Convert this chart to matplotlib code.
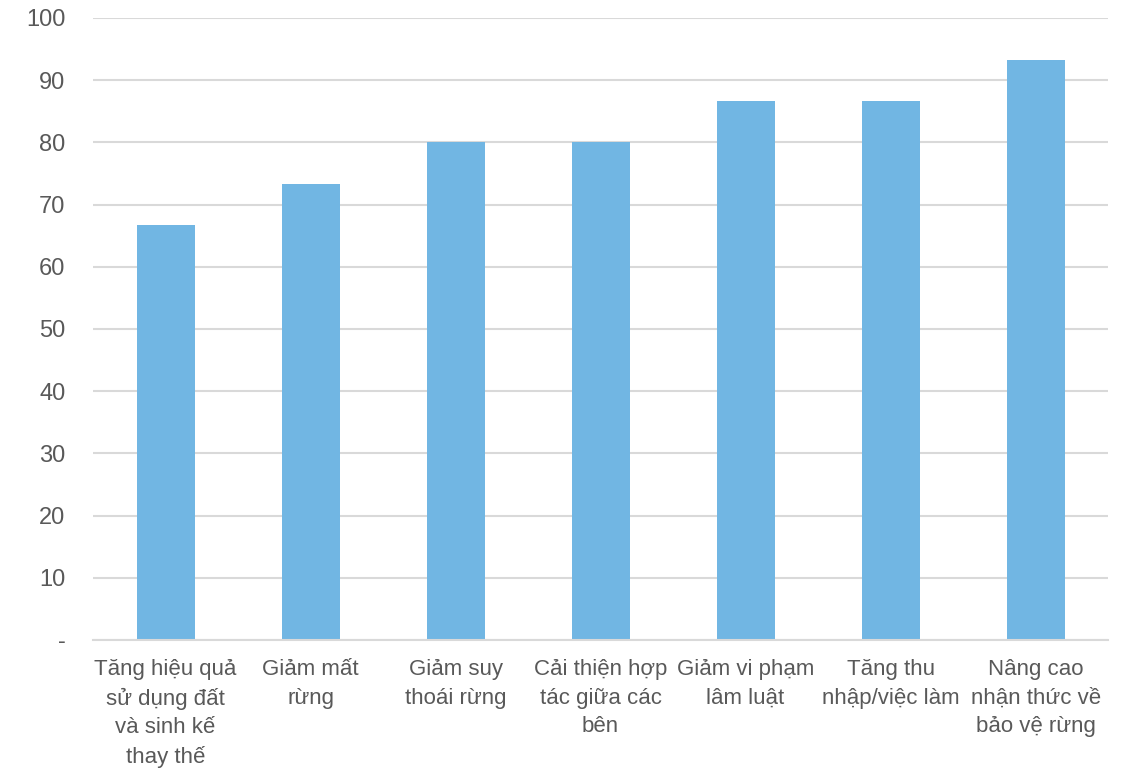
import matplotlib
matplotlib.use("Agg")
from matplotlib import pyplot as plt
from matplotlib.ticker import FixedLocator, FuncFormatter

plt.rcParams['font.family'] = ['Liberation Sans', 'DejaVu Sans']

# tỷ lệ (%) theo từng tác động
categories = [
    "Tăng hiệu quả\nsử dụng đất\nvà sinh kế\nthay thế",
    "Giảm mất\nrừng",
    "Giảm suy\nthoái rừng",
    "Cải thiện hợp\ntác giữa các\nbên",
    "Giảm vi phạm\nlâm luật",
    "Tăng thu\nnhập/việc làm",
    "Nâng cao\nnhận thức về\nbảo vệ rừng",
]
values = [66.7, 73.3, 80.0, 80.0, 86.7, 86.7, 93.3]
yticks = [0, 10, 20, 30, 40, 50, 60, 70, 80, 90, 100]

text_col = "#595959"
grid_col = "#d9d9d9"

fig = plt.figure(figsize=(11.25, 7.71), dpi=100)
ax = fig.add_axes([0.0827, 0.170, 0.9023, 0.8067])

x = range(len(categories))
ax.bar(x, values, width=0.4, color="#71b6e3", zorder=3)

ax.set_xlim(-0.5, len(categories) - 0.5)
ax.set_ylim(0, 100)
ax.yaxis.set_major_locator(FixedLocator(yticks))
ax.yaxis.set_major_formatter(FuncFormatter(lambda v, p: "-" if v == 0 else f"{v:.0f}"))
ax.grid(axis="y", color=grid_col, linewidth=1.5, zorder=0)

ax.set_xticks(list(x))
ax.set_xticklabels(categories, linespacing=1.45)

for s in ["top", "right", "left"]:
    ax.spines[s].set_visible(False)
ax.spines["bottom"].set_color(grid_col)
ax.spines["bottom"].set_linewidth(1.5)
ax.spines["bottom"].set_zorder(4)

ax.tick_params(axis="both", length=0, colors=text_col)
ax.tick_params(axis="y", pad=20, labelsize=17)
ax.tick_params(axis="x", pad=14, labelsize=16)

fig.savefig("out.png", dpi=100)
